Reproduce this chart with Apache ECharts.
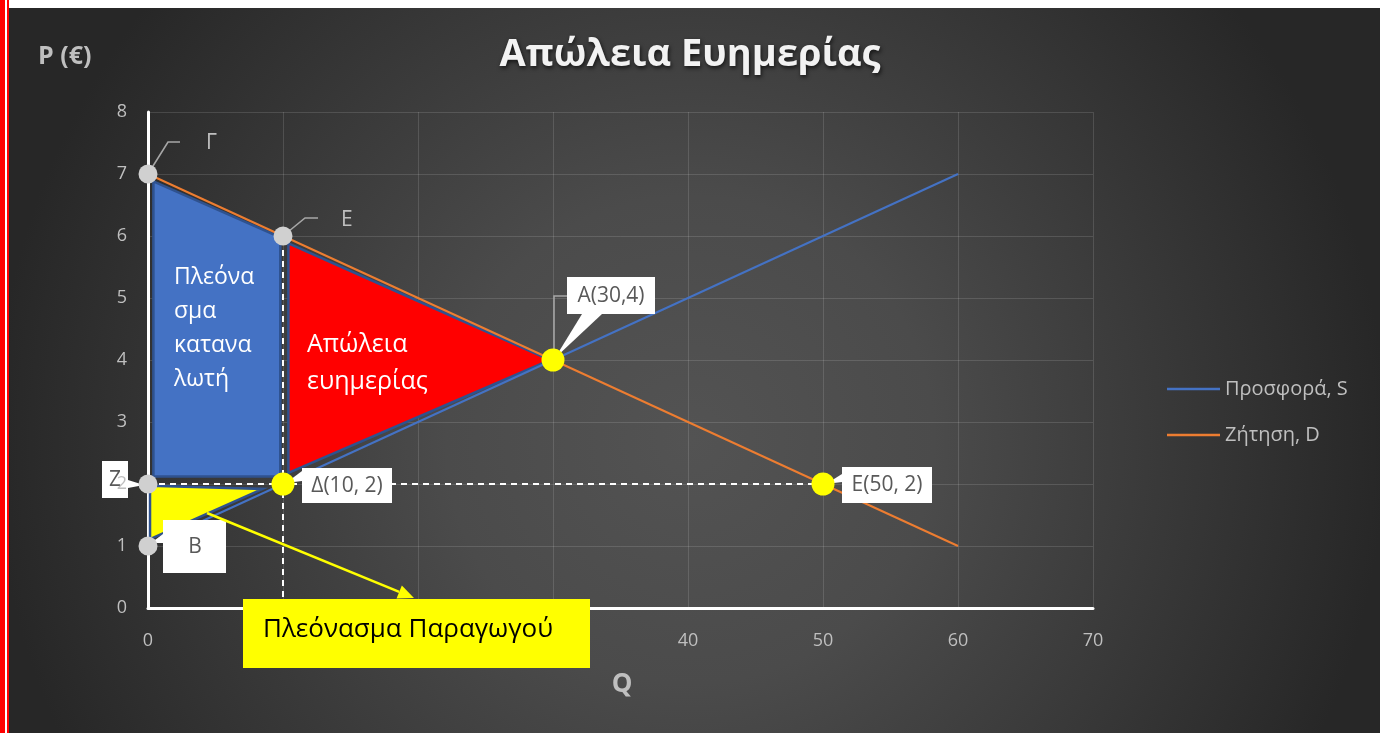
<!DOCTYPE html>
<html>
<head>
<meta charset="utf-8">
<script src="https://cdn.jsdelivr.net/npm/echarts@6/dist/echarts.min.js"></script>
<style>
html,body{margin:0;padding:0;background:#2a2a2a;}
#chart{width:1380px;height:733px;}
</style>
</head>
<body>
<div id="chart"></div>
<script>
// ---------- DATA ----------
const xTicks = [0, 10, 20, 30, 40, 50, 60, 70];
const yTicks = [0, 1, 2, 3, 4, 5, 6, 7, 8];
const seriesNames = ['Προσφορά, S', 'Ζήτηση, D'];
const supplyLine = [[0, 1], [60, 7]];
const demandLine = [[0, 7], [60, 1]];
const consumerSurplus = [[0.4, 6.88], [9.8, 5.98], [9.8, 2.12], [0.4, 2.12]];
const welfareLoss = [[10.4, 5.88], [29.8, 4.0], [10.4, 2.18]];
const producerSurplus = [[0.15, 1.97], [8.5, 1.92], [0.15, 1.11]];
const dashedH = [[0, 2], [50, 2]];
const dashedV = [[10, 0], [10, 6]];
const grayPoints = [[0, 7], [10, 6], [0, 2], [0, 1]];
const grayLabels = ['Γ', 'Ε', 'Ζ', 'Β'];
const yellowPoints = [[10, 2], [30, 4], [50, 2]];
const yellowLabels = ['Δ(10, 2)', 'A(30,4)', 'Ε(50, 2)'];
const titleText = 'Απώλεια Ευημερίας';
const yName = 'P (€)';
const xName = 'Q';
const csText = 'Πλεόνα\nσμα\nκατανα\nλωτή';
const wlText = 'Απώλεια\nευημερίας';
const psText = 'Πλεόνασμα Παραγωγού';

// ---------- STYLE (pixel offsets of callouts relative to their point) ----------
const calloutStyle = {
  'Γ': {leader: [[0, 0], [20, -32], [32, -32]], text: [58, -31], box: null},
  'Ε': {leader: [[0, 0], [22, -18], [35, -18]], text: [58, -16], box: null},
  'Ζ': {box: [-46, -23, 26, 37], tail: [[-20, -4], [-20, 4], [-4, 1]], text: [-33, -4]},
  'Β': {box: [15, -26, 63, 53], tail: [[3, -3], [15, -12], [15, -3]], text: [47, 1]},
  'Δ(10, 2)': {box: [19, -16, 90, 35], tail: [[3, -1], [19, -13], [19, -3]], text: [64, 2]},
  'A(30,4)': {box: [14, -83, 88, 37], tail: [[2, -2], [29, -46], [49, -46]], leader: [[1, 0], [1, -64], [14, -64]], text: [58, -64]},
  'Ε(50, 2)': {box: [19, -17, 90, 36], tail: [[3, 0], [19, -10], [19, -2]], text: [64, 1]}
};

const chart = echarts.init(document.getElementById('chart'), null, {renderer: 'canvas'});

function polySeries(pts, fill, z) {
  return {
    type: 'custom', z: z, silent: true, data: pts,
    renderItem: function (params, api) {
      if (params.dataIndex !== 0) return {type: 'group', children: []};
      const points = pts.map(p => api.coord(p));
      return {type: 'polygon', shape: {points: points},
        style: {fill: fill, stroke: '#2f528f', lineWidth: 2.5}};
    }
  };
}

function calloutSeries(points, labels, z, filterFn) {
  const data = points.map((p, i) => [p[0], p[1], i]);
  return {
    type: 'custom', z: z, silent: true, data: data,
    renderItem: function (params, api) {
      const i = params.dataIndex;
      const lbl = labels[i];
      if (filterFn && !filterFn(lbl)) return {type: 'group', children: []};
      const st = calloutStyle[lbl];
      const c = api.coord([points[i][0], points[i][1]]);
      const ch = [];
      if (st.leader) {
        ch.push({type: 'polyline', shape: {points: st.leader.map(o => [c[0] + o[0], c[1] + o[1]])},
          style: {stroke: '#a6a6a6', lineWidth: 1.6, fill: null}});
      }
      if (st.box) {
        ch.push({type: 'rect', shape: {x: c[0] + st.box[0], y: c[1] + st.box[1], width: st.box[2], height: st.box[3]},
          style: {fill: '#ffffff'}});
      }
      if (st.tail) {
        ch.push({type: 'polygon', shape: {points: st.tail.map(o => [c[0] + o[0], c[1] + o[1]])},
          style: {fill: '#ffffff'}});
      }
      ch.push({type: 'text', x: c[0] + st.text[0], y: c[1] + st.text[1],
        style: {text: lbl, fill: st.box ? '#595959' : '#bfbfbf', font: '21px "Open Sans", sans-serif',
          align: st.box ? 'center' : 'left', verticalAlign: 'middle'}});
      return {type: 'group', children: ch};
    }
  };
}

// arrow for producer surplus callout
const arrowStart = [207, 513], arrowTip = [414, 598];
const ang = Math.atan2(arrowTip[1] - arrowStart[1], arrowTip[0] - arrowStart[0]);
const ahL = 16, ahW = 7;
const ahBase = [arrowTip[0] - ahL * Math.cos(ang), arrowTip[1] - ahL * Math.sin(ang)];
const ahP1 = [ahBase[0] + ahW * Math.sin(ang), ahBase[1] - ahW * Math.cos(ang)];
const ahP2 = [ahBase[0] - ahW * Math.sin(ang), ahBase[1] + ahW * Math.cos(ang)];

const option = {
  backgroundColor: {
    type: 'radial', x: 0.5, y: 0.6, r: 0.95,
    colorStops: [{offset: 0, color: '#535353'}, {offset: 0.35, color: '#4b4b4b'}, {offset: 1, color: '#272727'}]
  },
  textStyle: {fontFamily: '"Open Sans", sans-serif'},
  animation: false,
  title: {
    text: titleText, left: 'center', top: 31,
    textStyle: {fontSize: 38, fontWeight: 'bold', color: '#f2f2f2', fontFamily: '"Open Sans", sans-serif',
      textShadowColor: 'rgba(0,0,0,0.7)', textShadowBlur: 4, textShadowOffsetX: 1, textShadowOffsetY: 2}
  },
  legend: {
    data: seriesNames, orient: 'vertical', left: 1162, top: 373,
    icon: 'rect', itemWidth: 53, itemHeight: 2.5, itemGap: 24,
    textStyle: {color: '#bfbfbf', fontSize: 20, lineHeight: 22, fontFamily: '"Open Sans", sans-serif'}
  },
  grid: {left: 148, right: 287, top: 112, bottom: 125, containLabel: false},
  xAxis: {
    type: 'value', min: xTicks[0], max: xTicks[xTicks.length - 1], interval: 10,
    axisLine: {show: true, onZero: false, lineStyle: {color: '#ffffff', width: 3}},
    axisTick: {show: false},
    axisLabel: {color: '#bfbfbf', fontSize: 18, margin: 24,
      formatter: v => xTicks.indexOf(v) >= 0 ? String(v) : ''},
    splitLine: {show: true, lineStyle: {color: 'rgba(255,255,255,0.13)', width: 1}}
  },
  yAxis: {
    type: 'value', min: yTicks[0], max: yTicks[yTicks.length - 1], interval: 1,
    axisLine: {show: true, onZero: false, lineStyle: {color: '#ffffff', width: 3}},
    axisTick: {show: false},
    axisLabel: {color: '#bfbfbf', fontSize: 18, margin: 21,
      formatter: v => yTicks.indexOf(v) >= 0 ? String(v) : ''},
    splitLine: {show: true, lineStyle: {color: 'rgba(255,255,255,0.13)', width: 1}}
  },
  series: [
    {type: 'line', data: dashedV, z: 1, symbol: 'none', silent: true,
      lineStyle: {color: '#ffffff', width: 2, type: [6, 5]}},
    polySeries(consumerSurplus, '#4472c4', 2),
    polySeries(welfareLoss, '#ff0000', 2),
    polySeries(producerSurplus, '#ffff00', 2),
    {type: 'line', data: dashedH, z: 3, symbol: 'none', silent: true,
      lineStyle: {color: '#ffffff', width: 2, type: [6, 5]}},
    {name: seriesNames[0], type: 'line', data: supplyLine, z: 4, symbol: 'none', showSymbol: false,
      lineStyle: {color: '#4472c4', width: 2}, itemStyle: {color: '#4472c4'}},
    {name: seriesNames[1], type: 'line', data: demandLine, z: 4, symbol: 'none', showSymbol: false,
      lineStyle: {color: '#ed7d31', width: 2}, itemStyle: {color: '#ed7d31'}},
    calloutSeries(grayPoints, grayLabels, -1, l => l === 'Ζ'),
    calloutSeries(grayPoints, grayLabels, 6, l => l !== 'Ζ'),
    calloutSeries(yellowPoints, yellowLabels, 6, null),
    {type: 'scatter', data: grayPoints, z: 7, symbolSize: 19, silent: true,
      itemStyle: {color: '#d0d0d0', opacity: 1}},
    {type: 'scatter', data: yellowPoints, z: 7, symbolSize: 23, silent: true,
      itemStyle: {color: '#ffff00', opacity: 1}}
  ],
  graphic: [
    {type: 'rect', z: 100, shape: {x: 0, y: 0, width: 1380, height: 8}, style: {fill: '#ffffff'}},
    {type: 'rect', z: 101, shape: {x: 0, y: 0, width: 5, height: 733}, style: {fill: '#ff0000'}},
    {type: 'rect', z: 101, shape: {x: 5, y: 0, width: 2, height: 733}, style: {fill: '#ffffff'}},
    {type: 'rect', z: 101, shape: {x: 7, y: 0, width: 2, height: 733}, style: {fill: '#ff0000'}},
    {type: 'text', z: 100, x: 38, y: 57, style: {text: yName, fill: '#bfbfbf',
      font: 'bold 25px "Open Sans", sans-serif', verticalAlign: 'middle'}},
    {type: 'text', z: 100, x: 622, y: 685, style: {text: xName, fill: '#bfbfbf',
      font: 'bold 26px "Open Sans", sans-serif', align: 'center', verticalAlign: 'middle'}},
    {type: 'text', z: 100, x: 174, y: 260, style: {text: csText, fill: '#ffffff',
      font: '23px "Open Sans", sans-serif', lineHeight: 34, verticalAlign: 'top'}},
    {type: 'text', z: 100, x: 307, y: 326, style: {text: wlText, fill: '#ffffff',
      font: '25px "Open Sans", sans-serif', lineHeight: 37, verticalAlign: 'top'}},
    {type: 'polyline', z: 99, shape: {points: [arrowStart, ahBase]}, style: {stroke: '#ffff00', lineWidth: 2.5}},
    {type: 'polygon', z: 99, shape: {points: [arrowTip, ahP1, ahP2]}, style: {fill: '#ffff00'}},
    {type: 'rect', z: 100, shape: {x: 243, y: 599, width: 347, height: 69}, style: {fill: '#ffff00'}},
    {type: 'text', z: 101, x: 263, y: 630, style: {text: psText, fill: '#000000',
      font: '26px "Open Sans", sans-serif', verticalAlign: 'middle'}}
  ]
};
chart.setOption(option);
</script>
</body>
</html>
